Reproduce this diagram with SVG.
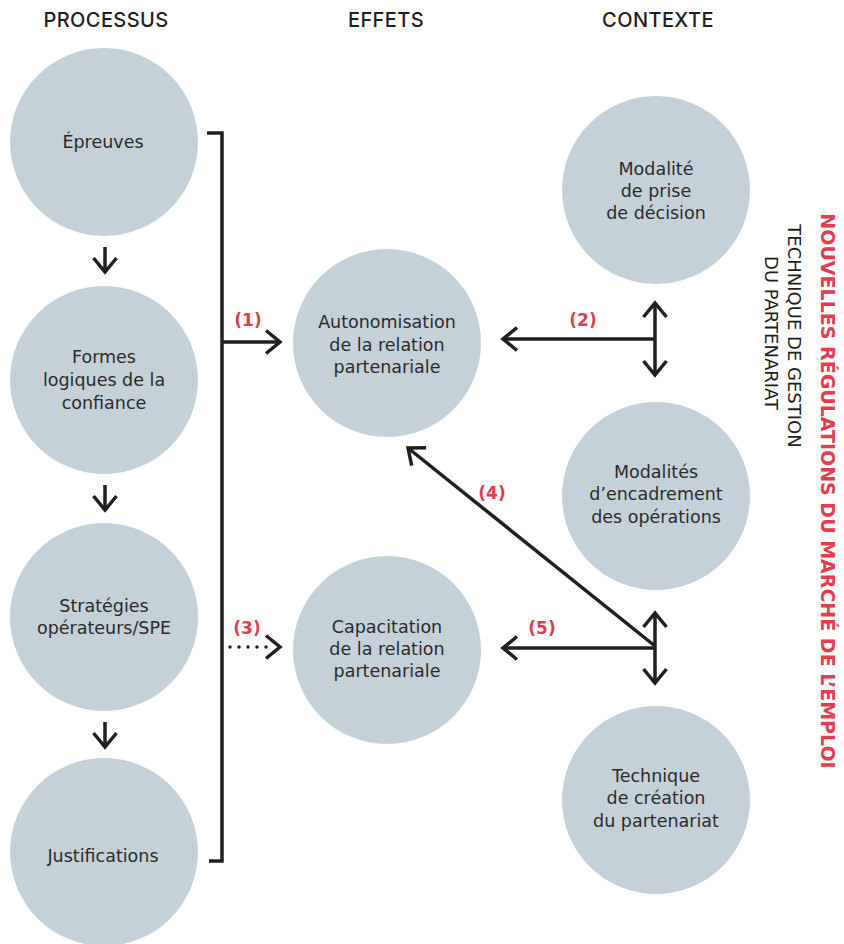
<svg xmlns="http://www.w3.org/2000/svg" width="844" height="944" viewBox="0 0 844 944">
<style>
.node circle{fill:#c5d1d9}
.node text{font-family:"DejaVu Sans","Liberation Sans",sans-serif;font-size:17.5px;fill:#2b2b2b;text-anchor:middle}
.hdr{font-family:Inter,"DejaVu Sans",sans-serif;font-size:20px;font-weight:500;fill:#231f20;text-anchor:middle;letter-spacing:0.4px}
.lbl{font-family:"DejaVu Sans","Liberation Sans",sans-serif;font-size:17px;font-weight:bold;fill:#e63c4e;text-anchor:middle}
.ln{fill:none;stroke:#231f20;stroke-width:3.5}
.side{font-family:"DejaVu Sans","Liberation Sans",sans-serif;text-anchor:middle}
</style>
<defs>
<marker id="chev" viewBox="-16 -14 20 28" refX="0" refY="0" markerWidth="20" markerHeight="28" orient="auto-start-reverse" markerUnits="userSpaceOnUse">
<path d="M-14,-11.5 L0,0 L-14,11.5" fill="none" stroke="#231f20" stroke-width="3.5"/>
</marker>
</defs>
<rect width="844" height="944" fill="#ffffff"/>
<g id="headers">
<text class="hdr" x="106" y="27">PROCESSUS</text>
<text class="hdr" x="386" y="27">EFFETS</text>
<text class="hdr" x="658" y="27">CONTEXTE</text>
</g>
<g id="n-epreuves" class="node"><circle cx="104" cy="142" r="94"/><text x="103" y="148">Épreuves</text></g>
<g id="n-formes" class="node"><circle cx="104" cy="380" r="94"/><text x="104" y="363">Formes</text><text x="104" y="386">logiques de la</text><text x="104" y="409">confiance</text></g>
<g id="n-strategies" class="node"><circle cx="104" cy="617" r="94"/><text x="104" y="612">Stratégies</text><text x="104" y="634">opérateurs/SPE</text></g>
<g id="n-justifications" class="node"><circle cx="104" cy="852" r="94"/><text x="103" y="862">Justifications</text></g>
<g id="n-autonomisation" class="node"><circle cx="387" cy="343" r="94"/><text x="387" y="328">Autonomisation</text><text x="387" y="351">de la relation</text><text x="387" y="373">partenariale</text></g>
<g id="n-capacitation" class="node"><circle cx="387" cy="650" r="94"/><text x="387" y="633">Capacitation</text><text x="387" y="655">de la relation</text><text x="387" y="677">partenariale</text></g>
<g id="n-modalite" class="node"><circle cx="656" cy="190" r="94"/><text x="656" y="175">Modalité</text><text x="656" y="197">de prise</text><text x="656" y="219">de décision</text></g>
<g id="n-encadrement" class="node"><circle cx="656" cy="496" r="94"/><text x="656" y="478">Modalités</text><text x="656" y="500">d’encadrement</text><text x="656" y="523">des opérations</text></g>
<g id="n-technique" class="node"><circle cx="656" cy="800" r="94"/><text x="656" y="782">Technique</text><text x="656" y="804">de création</text><text x="656" y="827">du partenariat</text></g>
<g id="connectors">
<line class="ln" x1="105" y1="247" x2="105" y2="272" marker-end="url(#chev)"/>
<line class="ln" x1="105" y1="485" x2="105" y2="510" marker-end="url(#chev)"/>
<line class="ln" x1="105" y1="722" x2="105" y2="747" marker-end="url(#chev)"/>
<path class="ln" d="M207,133 H222 V861 H209" stroke-linejoin="miter"/>
<line class="ln" x1="222" y1="342" x2="280" y2="342" marker-end="url(#chev)"/>
<line x1="230" y1="647" x2="267" y2="647" stroke="#231f20" stroke-width="3.5" stroke-linecap="round" stroke-dasharray="0 9"/>
<path class="ln" d="M266,635.5 L280,647 L266,658.5"/>
<line class="ln" x1="655" y1="339" x2="503" y2="339" marker-end="url(#chev)"/>
<line class="ln" x1="655" y1="303" x2="655" y2="375" marker-start="url(#chev)" marker-end="url(#chev)"/>
<line class="ln" x1="655" y1="648" x2="503" y2="648" marker-end="url(#chev)"/>
<line class="ln" x1="655" y1="613" x2="655" y2="683" marker-start="url(#chev)" marker-end="url(#chev)"/>
<line class="ln" x1="655" y1="646" x2="408" y2="448" marker-end="url(#chev)"/>
<text class="lbl" x="248" y="326">(1)</text>
<text class="lbl" x="583" y="326">(2)</text>
<text class="lbl" x="247" y="634">(3)</text>
<text class="lbl" x="492" y="499">(4)</text>
<text class="lbl" x="542" y="634">(5)</text>
</g>
<g id="side-titles">
<text class="side" transform="translate(821,491) rotate(90)" font-size="19" font-weight="bold" fill="#e63c4e">NOUVELLES RÉGULATIONS DU MARCHÉ DE L’EMPLOI</text>
<text class="side" transform="translate(788,336) rotate(90)" font-size="18" fill="#231f20">TECHNIQUE DE GESTION</text>
<text class="side" transform="translate(765,333) rotate(90)" font-size="18" fill="#231f20">DU PARTENARIAT</text>
</g>
</svg>
